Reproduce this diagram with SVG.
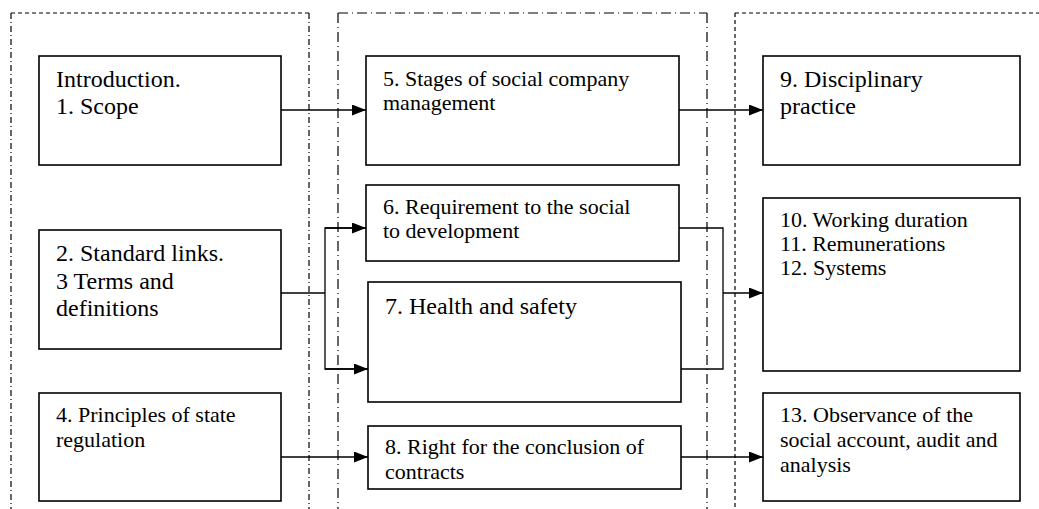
<svg xmlns="http://www.w3.org/2000/svg" width="1039" height="509" viewBox="0 0 1039 509">
<defs>
<style>
.box{fill:#fff;stroke:#000;stroke-width:1.6}
.t{fill:#000}
.s22{font-size:22px}
.s24{font-size:24px}
.con{fill:none;stroke:#000;stroke-width:1.3}
.gdash{fill:none;stroke:#000;stroke-width:1.2;stroke-dasharray:4 3}
.gdd{fill:none;stroke:#000;stroke-width:1.2;stroke-dasharray:6 3 1 3}
.gldd{fill:none;stroke:#000;stroke-width:1.2;stroke-dasharray:10 4 1 4}
</style>
<marker id="arr" markerUnits="userSpaceOnUse" markerWidth="14" markerHeight="11" refX="14" refY="5.5" orient="auto">
<path d="M0,0 L14,5.5 L0,11 z" fill="#000"/>
</marker>
</defs>
<rect width="1039" height="509" fill="#fff"/>

<g id="group-left">
<line class="gdash" x1="11" y1="13" x2="309" y2="13"/>
<line class="gdd" x1="11" y1="13" x2="11" y2="520"/>
<line class="gdd" x1="309" y1="13" x2="309" y2="520"/>
</g>
<g id="group-middle">
<line class="gldd" x1="338" y1="13" x2="707" y2="13"/>
<line class="gldd" x1="338" y1="13" x2="338" y2="520"/>
<line class="gldd" x1="707" y1="13" x2="707" y2="520"/>
</g>
<g id="group-right">
<line class="gdash" x1="735" y1="13" x2="1045" y2="13"/>
<line class="gdash" x1="735" y1="13" x2="735" y2="520"/>
</g>

<g id="connectors">
<line class="con" x1="281" y1="110" x2="366" y2="110" marker-end="url(#arr)"/>
<polyline class="con" points="281,293 325,293"/>
<polyline class="con" points="366,228 325,228 325,369 368,369"/>
<line class="con" x1="325" y1="228" x2="366" y2="228" marker-end="url(#arr)"/>
<line class="con" x1="325" y1="369" x2="368" y2="369" marker-end="url(#arr)"/>
<line class="con" x1="281" y1="457" x2="368" y2="457" marker-end="url(#arr)"/>
<line class="con" x1="679" y1="110" x2="763" y2="110" marker-end="url(#arr)"/>
<polyline class="con" points="679,228 723,228 723,369 681,369"/>
<line class="con" x1="723" y1="293" x2="763" y2="293" marker-end="url(#arr)"/>
<line class="con" x1="681" y1="457" x2="763" y2="457" marker-end="url(#arr)"/>
</g>

<g font-family="Liberation Serif, Times New Roman, Tinos, Noto Serif, DejaVu Serif, serif">
<g id="node-1">
<rect class="box" x="39" y="56" width="242" height="109"/>
<text class="t s24" x="56" y="87">Introduction.</text>
<text class="t s24" x="56" y="114">1. Scope</text>
</g>
<g id="node-2">
<rect class="box" x="39" y="230" width="242" height="119"/>
<text class="t s24" x="56" y="261">2. Standard links.</text>
<text class="t s24" x="56" y="289">3 Terms and</text>
<text class="t s24" x="56" y="316">definitions</text>
</g>
<g id="node-4">
<rect class="box" x="39" y="393" width="242" height="108"/>
<text class="t s22" x="56" y="422">4. Principles of state</text>
<text class="t s22" x="56" y="447">regulation</text>
</g>
<g id="node-5">
<rect class="box" x="366" y="56" width="313" height="109"/>
<text class="t s22" x="383" y="86">5. Stages of social company</text>
<text class="t s22" x="383" y="110">management</text>
</g>
<g id="node-6">
<rect class="box" x="366" y="185" width="313" height="76"/>
<text class="t s22" x="383" y="214">6. Requirement to the social</text>
<text class="t s22" x="383" y="238">to development</text>
</g>
<g id="node-7">
<rect class="box" x="368" y="282" width="313" height="120"/>
<text class="t s24" x="385" y="314">7. Health and safety</text>
</g>
<g id="node-8">
<rect class="box" x="368" y="426" width="313" height="63"/>
<text class="t s22" x="385" y="454">8. Right for the conclusion of</text>
<text class="t s22" x="385" y="479">contracts</text>
</g>
<g id="node-9">
<rect class="box" x="763" y="56" width="257" height="109"/>
<text class="t s24" x="780" y="87">9. Disciplinary</text>
<text class="t s24" x="780" y="114">practice</text>
</g>
<g id="node-10">
<rect class="box" x="763" y="198" width="257" height="173"/>
<text class="t s22" x="780" y="227">10. Working duration</text>
<text class="t s22" x="780" y="251">11. Remunerations</text>
<text class="t s22" x="780" y="275">12. Systems</text>
</g>
<g id="node-13">
<rect class="box" x="763" y="393" width="257" height="108"/>
<text class="t s22" x="780" y="422">13. Observance of the</text>
<text class="t s22" x="780" y="447">social account, audit and</text>
<text class="t s22" x="780" y="472">analysis</text>
</g>
</g>
</svg>
